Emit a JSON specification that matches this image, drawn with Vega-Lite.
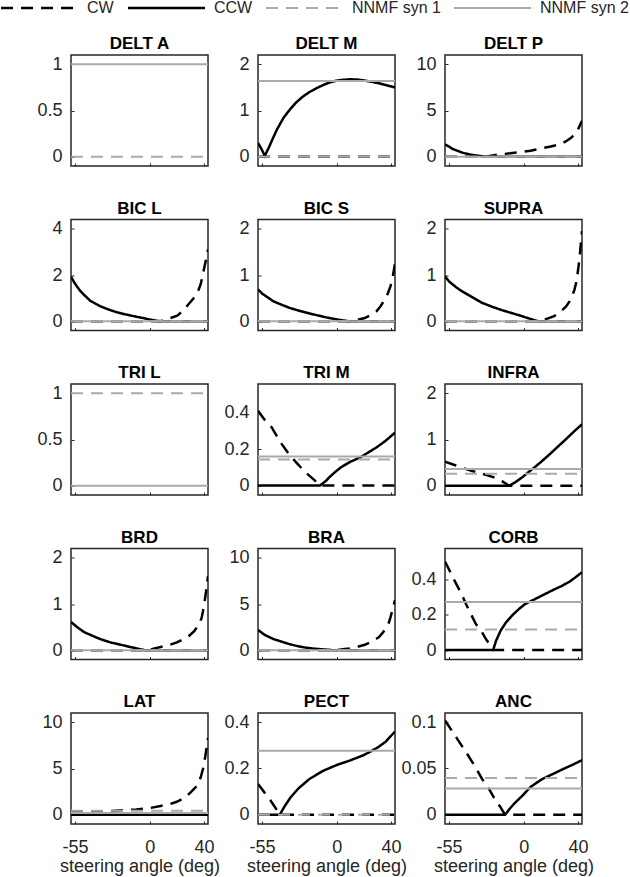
{
"$schema": "https://vega.github.io/schema/vega-lite/v6.json",
"padding": 0,
"background": "white",
"columns": 3,
"spacing": {"row": 53.5, "column": 50},
"bounds": "flush",
"config": {
 "font": "Liberation Sans",
 "view": {"stroke": "#262626", "strokeWidth": 1.5},
 "axis": {"domain": false, "grid": false, "ticks": true, "tickSize": -3, "tickColor": "#262626", "tickWidth": 1, "labelFont": "Liberation Sans", "labelFontSize": 18, "labelColor": "#262626", "titleFont": "Liberation Sans", "titleFontSize": 18, "titleFontWeight": "normal", "titleColor": "#262626"},
 "axisY": {"labelPadding": 12, "format": "~f"},
 "axisX": {"labelPadding": 17, "titlePadding": 1},
 "title": {"font": "Liberation Sans", "fontSize": 17, "fontWeight": "bold", "color": "#000000", "offset": 2, "frame": "group", "anchor": "middle"},
 "legend": {"orient": "none", "legendX": -71, "legendY": -55, "direction": "horizontal", "symbolType": "M-1.2727,0L12.7273,0", "symbolSize": 121, "symbolStrokeWidth": 2.5, "labelFont": "Liberation Sans", "labelFontSize": 16, "labelColor": "#262626", "labelOffset": 71, "columnPadding": 9, "padding": 0}
},
"resolve": {"scale": {"x": "independent", "y": "independent"}},
"data": {"values": [
{"p":"DELT A","s":"NNMF syn 1","x":-58,"y":0},{"p":"DELT A","s":"NNMF syn 1","x":43,"y":0},
{"p":"DELT A","s":"NNMF syn 2","x":-58,"y":1},{"p":"DELT A","s":"NNMF syn 2","x":43,"y":1},

{"p":"DELT M","s":"CW","x":-58,"y":0},{"p":"DELT M","s":"CW","x":43,"y":0},
{"p":"DELT M","s":"CCW","x":-58,"y":0.3},{"p":"DELT M","s":"CCW","x":-55.5,"y":0.17},{"p":"DELT M","s":"CCW","x":-53,"y":0.02},{"p":"DELT M","s":"CCW","x":-50,"y":0.2},{"p":"DELT M","s":"CCW","x":-47,"y":0.4},{"p":"DELT M","s":"CCW","x":-44,"y":0.59},{"p":"DELT M","s":"CCW","x":-39,"y":0.85},{"p":"DELT M","s":"CCW","x":-34.5,"y":1.02},{"p":"DELT M","s":"CCW","x":-30,"y":1.17},{"p":"DELT M","s":"CCW","x":-25,"y":1.3},{"p":"DELT M","s":"CCW","x":-20,"y":1.4},{"p":"DELT M","s":"CCW","x":-15,"y":1.48},{"p":"DELT M","s":"CCW","x":-10,"y":1.55},{"p":"DELT M","s":"CCW","x":-5,"y":1.61},{"p":"DELT M","s":"CCW","x":0,"y":1.645},{"p":"DELT M","s":"CCW","x":5,"y":1.665},{"p":"DELT M","s":"CCW","x":10,"y":1.675},{"p":"DELT M","s":"CCW","x":15,"y":1.67},{"p":"DELT M","s":"CCW","x":20,"y":1.65},{"p":"DELT M","s":"CCW","x":25,"y":1.625},{"p":"DELT M","s":"CCW","x":30,"y":1.595},{"p":"DELT M","s":"CCW","x":35,"y":1.56},{"p":"DELT M","s":"CCW","x":43,"y":1.5},
{"p":"DELT M","s":"NNMF syn 1","x":-58,"y":0},{"p":"DELT M","s":"NNMF syn 1","x":43,"y":0},
{"p":"DELT M","s":"NNMF syn 2","x":-58,"y":1.64},{"p":"DELT M","s":"NNMF syn 2","x":43,"y":1.64},

{"p":"DELT P","s":"CW","x":-58,"y":0},{"p":"DELT P","s":"CW","x":-28,"y":0},{"p":"DELT P","s":"CW","x":-24,"y":0.1},{"p":"DELT P","s":"CW","x":-18,"y":0.25},{"p":"DELT P","s":"CW","x":-10,"y":0.37},{"p":"DELT P","s":"CW","x":-3,"y":0.5},{"p":"DELT P","s":"CW","x":5,"y":0.65},{"p":"DELT P","s":"CW","x":11.6,"y":0.86},{"p":"DELT P","s":"CW","x":20,"y":1.1},{"p":"DELT P","s":"CW","x":26.4,"y":1.33},{"p":"DELT P","s":"CW","x":31,"y":1.65},{"p":"DELT P","s":"CW","x":35,"y":2.04},{"p":"DELT P","s":"CW","x":38,"y":2.5},{"p":"DELT P","s":"CW","x":40,"y":2.94},{"p":"DELT P","s":"CW","x":43,"y":3.9},
{"p":"DELT P","s":"CCW","x":-58,"y":1.33},{"p":"DELT P","s":"CCW","x":-55,"y":1.1},{"p":"DELT P","s":"CCW","x":-52.6,"y":0.86},{"p":"DELT P","s":"CCW","x":-48,"y":0.6},{"p":"DELT P","s":"CCW","x":-45,"y":0.43},{"p":"DELT P","s":"CCW","x":-40,"y":0.25},{"p":"DELT P","s":"CCW","x":-35,"y":0.13},{"p":"DELT P","s":"CCW","x":-31.6,"y":0.07},{"p":"DELT P","s":"CCW","x":-28,"y":0},{"p":"DELT P","s":"CCW","x":43,"y":0},
{"p":"DELT P","s":"NNMF syn 1","x":-58,"y":0},{"p":"DELT P","s":"NNMF syn 1","x":43,"y":0},
{"p":"DELT P","s":"NNMF syn 2","x":-58,"y":0},{"p":"DELT P","s":"NNMF syn 2","x":43,"y":0},

{"p":"BIC L","s":"CW","x":-58,"y":0},{"p":"BIC L","s":"CW","x":7.9,"y":0},{"p":"BIC L","s":"CW","x":12.9,"y":0.1},{"p":"BIC L","s":"CW","x":16.5,"y":0.16},{"p":"BIC L","s":"CW","x":20.3,"y":0.24},{"p":"BIC L","s":"CW","x":24,"y":0.42},{"p":"BIC L","s":"CW","x":27.7,"y":0.67},{"p":"BIC L","s":"CW","x":31,"y":0.9},{"p":"BIC L","s":"CW","x":33.9,"y":1.1},{"p":"BIC L","s":"CW","x":36,"y":1.35},{"p":"BIC L","s":"CW","x":37.6,"y":1.6},{"p":"BIC L","s":"CW","x":39,"y":1.95},{"p":"BIC L","s":"CW","x":40,"y":2.25},{"p":"BIC L","s":"CW","x":41.3,"y":2.6},{"p":"BIC L","s":"CW","x":43,"y":3.1},
{"p":"BIC L","s":"CCW","x":-58,"y":1.92},{"p":"BIC L","s":"CCW","x":-55,"y":1.62},{"p":"BIC L","s":"CCW","x":-51.3,"y":1.32},{"p":"BIC L","s":"CCW","x":-48,"y":1.12},{"p":"BIC L","s":"CCW","x":-43.9,"y":0.89},{"p":"BIC L","s":"CCW","x":-40,"y":0.76},{"p":"BIC L","s":"CCW","x":-36.5,"y":0.65},{"p":"BIC L","s":"CCW","x":-30,"y":0.5},{"p":"BIC L","s":"CCW","x":-24.2,"y":0.39},{"p":"BIC L","s":"CCW","x":-18,"y":0.3},{"p":"BIC L","s":"CCW","x":-11.8,"y":0.22},{"p":"BIC L","s":"CCW","x":-5,"y":0.14},{"p":"BIC L","s":"CCW","x":0.5,"y":0.07},{"p":"BIC L","s":"CCW","x":5,"y":0.02},{"p":"BIC L","s":"CCW","x":7.9,"y":0},{"p":"BIC L","s":"CCW","x":43,"y":0},
{"p":"BIC L","s":"NNMF syn 1","x":-58,"y":0},{"p":"BIC L","s":"NNMF syn 1","x":43,"y":0},
{"p":"BIC L","s":"NNMF syn 2","x":-58,"y":0},{"p":"BIC L","s":"NNMF syn 2","x":43,"y":0},

{"p":"BIC S","s":"CW","x":-58,"y":0},{"p":"BIC S","s":"CW","x":9,"y":0},{"p":"BIC S","s":"CW","x":15,"y":0.03},{"p":"BIC S","s":"CW","x":20.7,"y":0.07},{"p":"BIC S","s":"CW","x":25,"y":0.13},{"p":"BIC S","s":"CW","x":29.5,"y":0.22},{"p":"BIC S","s":"CW","x":32.5,"y":0.33},{"p":"BIC S","s":"CW","x":35.4,"y":0.47},{"p":"BIC S","s":"CW","x":37.7,"y":0.6},{"p":"BIC S","s":"CW","x":39.7,"y":0.76},{"p":"BIC S","s":"CW","x":41.3,"y":0.95},{"p":"BIC S","s":"CW","x":43,"y":1.25},
{"p":"BIC S","s":"CCW","x":-58,"y":0.69},{"p":"BIC S","s":"CCW","x":-55,"y":0.6},{"p":"BIC S","s":"CCW","x":-51,"y":0.52},{"p":"BIC S","s":"CCW","x":-46.6,"y":0.43},{"p":"BIC S","s":"CCW","x":-40,"y":0.35},{"p":"BIC S","s":"CCW","x":-34.8,"y":0.29},{"p":"BIC S","s":"CCW","x":-28,"y":0.23},{"p":"BIC S","s":"CCW","x":-20.2,"y":0.17},{"p":"BIC S","s":"CCW","x":-13,"y":0.12},{"p":"BIC S","s":"CCW","x":-5.6,"y":0.07},{"p":"BIC S","s":"CCW","x":2,"y":0.03},{"p":"BIC S","s":"CCW","x":9,"y":0},{"p":"BIC S","s":"CCW","x":43,"y":0},
{"p":"BIC S","s":"NNMF syn 1","x":-58,"y":0},{"p":"BIC S","s":"NNMF syn 1","x":43,"y":0},
{"p":"BIC S","s":"NNMF syn 2","x":-58,"y":0},{"p":"BIC S","s":"NNMF syn 2","x":43,"y":0},

{"p":"SUPRA","s":"CW","x":-58,"y":0},{"p":"SUPRA","s":"CW","x":10.6,"y":0},{"p":"SUPRA","s":"CW","x":16,"y":0.04},{"p":"SUPRA","s":"CW","x":22.4,"y":0.11},{"p":"SUPRA","s":"CW","x":27,"y":0.2},{"p":"SUPRA","s":"CW","x":31.3,"y":0.32},{"p":"SUPRA","s":"CW","x":33.8,"y":0.43},{"p":"SUPRA","s":"CW","x":35.7,"y":0.54},{"p":"SUPRA","s":"CW","x":37.4,"y":0.68},{"p":"SUPRA","s":"CW","x":38.7,"y":0.83},{"p":"SUPRA","s":"CW","x":39.6,"y":1.0},{"p":"SUPRA","s":"CW","x":40.5,"y":1.2},{"p":"SUPRA","s":"CW","x":41.6,"y":1.5},{"p":"SUPRA","s":"CW","x":43,"y":1.95},
{"p":"SUPRA","s":"CCW","x":-58,"y":0.97},{"p":"SUPRA","s":"CCW","x":-55,"y":0.86},{"p":"SUPRA","s":"CCW","x":-50,"y":0.74},{"p":"SUPRA","s":"CCW","x":-45.6,"y":0.65},{"p":"SUPRA","s":"CCW","x":-38,"y":0.52},{"p":"SUPRA","s":"CCW","x":-30.8,"y":0.4},{"p":"SUPRA","s":"CCW","x":-23,"y":0.31},{"p":"SUPRA","s":"CCW","x":-16,"y":0.24},{"p":"SUPRA","s":"CCW","x":-8,"y":0.17},{"p":"SUPRA","s":"CCW","x":-1.2,"y":0.11},{"p":"SUPRA","s":"CCW","x":5,"y":0.05},{"p":"SUPRA","s":"CCW","x":10.6,"y":0},{"p":"SUPRA","s":"CCW","x":43,"y":0},
{"p":"SUPRA","s":"NNMF syn 1","x":-58,"y":0},{"p":"SUPRA","s":"NNMF syn 1","x":43,"y":0},
{"p":"SUPRA","s":"NNMF syn 2","x":-58,"y":0},{"p":"SUPRA","s":"NNMF syn 2","x":43,"y":0},

{"p":"TRI L","s":"NNMF syn 1","x":-58,"y":1},{"p":"TRI L","s":"NNMF syn 1","x":43,"y":1},
{"p":"TRI L","s":"NNMF syn 2","x":-58,"y":0},{"p":"TRI L","s":"NNMF syn 2","x":43,"y":0},

{"p":"TRI M","s":"CW","x":-58,"y":0.41},{"p":"TRI M","s":"CW","x":-53,"y":0.36},{"p":"TRI M","s":"CW","x":-48,"y":0.32},{"p":"TRI M","s":"CW","x":-44,"y":0.27},{"p":"TRI M","s":"CW","x":-40.7,"y":0.23},{"p":"TRI M","s":"CW","x":-35,"y":0.17},{"p":"TRI M","s":"CW","x":-29,"y":0.12},{"p":"TRI M","s":"CW","x":-24,"y":0.08},{"p":"TRI M","s":"CW","x":-20.2,"y":0.054},{"p":"TRI M","s":"CW","x":-16,"y":0.027},{"p":"TRI M","s":"CW","x":-12.3,"y":0},{"p":"TRI M","s":"CW","x":43,"y":0},
{"p":"TRI M","s":"CCW","x":-58,"y":0},{"p":"TRI M","s":"CCW","x":-12.3,"y":0},{"p":"TRI M","s":"CCW","x":-8,"y":0.025},{"p":"TRI M","s":"CCW","x":-5.6,"y":0.044},{"p":"TRI M","s":"CCW","x":-1,"y":0.075},{"p":"TRI M","s":"CCW","x":3.2,"y":0.1},{"p":"TRI M","s":"CCW","x":10,"y":0.13},{"p":"TRI M","s":"CCW","x":17.8,"y":0.156},{"p":"TRI M","s":"CCW","x":23,"y":0.18},{"p":"TRI M","s":"CCW","x":29.5,"y":0.21},{"p":"TRI M","s":"CCW","x":36,"y":0.245},{"p":"TRI M","s":"CCW","x":43,"y":0.29},
{"p":"TRI M","s":"NNMF syn 1","x":-58,"y":0.143},{"p":"TRI M","s":"NNMF syn 1","x":43,"y":0.143},
{"p":"TRI M","s":"NNMF syn 2","x":-58,"y":0.159},{"p":"TRI M","s":"NNMF syn 2","x":43,"y":0.159},

{"p":"INFRA","s":"CW","x":-58,"y":0.52},{"p":"INFRA","s":"CW","x":-52,"y":0.46},{"p":"INFRA","s":"CW","x":-45.6,"y":0.39},{"p":"INFRA","s":"CW","x":-38,"y":0.32},{"p":"INFRA","s":"CW","x":-30.8,"y":0.26},{"p":"INFRA","s":"CW","x":-26,"y":0.22},{"p":"INFRA","s":"CW","x":-21.9,"y":0.18},{"p":"INFRA","s":"CW","x":-16,"y":0.1},{"p":"INFRA","s":"CW","x":-10.7,"y":0},{"p":"INFRA","s":"CW","x":43,"y":0},
{"p":"INFRA","s":"CCW","x":-58,"y":0},{"p":"INFRA","s":"CCW","x":-10.7,"y":0},{"p":"INFRA","s":"CCW","x":-6,"y":0.08},{"p":"INFRA","s":"CCW","x":-1.2,"y":0.18},{"p":"INFRA","s":"CCW","x":3,"y":0.28},{"p":"INFRA","s":"CCW","x":7.7,"y":0.39},{"p":"INFRA","s":"CCW","x":13,"y":0.52},{"p":"INFRA","s":"CCW","x":19.5,"y":0.69},{"p":"INFRA","s":"CCW","x":25,"y":0.84},{"p":"INFRA","s":"CCW","x":31.3,"y":1.01},{"p":"INFRA","s":"CCW","x":37,"y":1.17},{"p":"INFRA","s":"CCW","x":43,"y":1.33},
{"p":"INFRA","s":"NNMF syn 1","x":-58,"y":0.26},{"p":"INFRA","s":"NNMF syn 1","x":43,"y":0.26},
{"p":"INFRA","s":"NNMF syn 2","x":-58,"y":0.36},{"p":"INFRA","s":"NNMF syn 2","x":43,"y":0.36},

{"p":"BRD","s":"CW","x":-58,"y":0},{"p":"BRD","s":"CW","x":-3.7,"y":0},{"p":"BRD","s":"CW","x":2,"y":0.03},{"p":"BRD","s":"CW","x":8.2,"y":0.07},{"p":"BRD","s":"CW","x":14,"y":0.11},{"p":"BRD","s":"CW","x":20.1,"y":0.17},{"p":"BRD","s":"CW","x":25,"y":0.24},{"p":"BRD","s":"CW","x":29,"y":0.31},{"p":"BRD","s":"CW","x":33,"y":0.42},{"p":"BRD","s":"CW","x":36.5,"y":0.57},{"p":"BRD","s":"CW","x":38.3,"y":0.7},{"p":"BRD","s":"CW","x":39.4,"y":0.86},{"p":"BRD","s":"CW","x":41,"y":1.15},{"p":"BRD","s":"CW","x":43,"y":1.6},
{"p":"BRD","s":"CCW","x":-58,"y":0.61},{"p":"BRD","s":"CCW","x":-53,"y":0.49},{"p":"BRD","s":"CCW","x":-48.2,"y":0.39},{"p":"BRD","s":"CCW","x":-42,"y":0.31},{"p":"BRD","s":"CCW","x":-36.3,"y":0.24},{"p":"BRD","s":"CCW","x":-29,"y":0.17},{"p":"BRD","s":"CCW","x":-21.5,"y":0.12},{"p":"BRD","s":"CCW","x":-15,"y":0.075},{"p":"BRD","s":"CCW","x":-9.6,"y":0.04},{"p":"BRD","s":"CCW","x":-3.7,"y":0},{"p":"BRD","s":"CCW","x":43,"y":0},
{"p":"BRD","s":"NNMF syn 1","x":-58,"y":0},{"p":"BRD","s":"NNMF syn 1","x":43,"y":0},
{"p":"BRD","s":"NNMF syn 2","x":-58,"y":0},{"p":"BRD","s":"NNMF syn 2","x":43,"y":0},

{"p":"BRA","s":"CW","x":-58,"y":0},{"p":"BRA","s":"CW","x":-2.7,"y":0},{"p":"BRA","s":"CW","x":3,"y":0.07},{"p":"BRA","s":"CW","x":9,"y":0.18},{"p":"BRA","s":"CW","x":15,"y":0.35},{"p":"BRA","s":"CW","x":20.7,"y":0.59},{"p":"BRA","s":"CW","x":26,"y":0.95},{"p":"BRA","s":"CW","x":31,"y":1.39},{"p":"BRA","s":"CW","x":34,"y":1.9},{"p":"BRA","s":"CW","x":36.8,"y":2.49},{"p":"BRA","s":"CW","x":38.5,"y":3.0},{"p":"BRA","s":"CW","x":39.7,"y":3.59},{"p":"BRA","s":"CW","x":41.2,"y":4.4},{"p":"BRA","s":"CW","x":43,"y":5.42},
{"p":"BRA","s":"CCW","x":-58,"y":2.2},{"p":"BRA","s":"CCW","x":-53,"y":1.65},{"p":"BRA","s":"CCW","x":-46.6,"y":1.21},{"p":"BRA","s":"CCW","x":-40,"y":0.9},{"p":"BRA","s":"CCW","x":-34.8,"y":0.66},{"p":"BRA","s":"CCW","x":-29,"y":0.45},{"p":"BRA","s":"CCW","x":-23.2,"y":0.29},{"p":"BRA","s":"CCW","x":-17,"y":0.18},{"p":"BRA","s":"CCW","x":-11.5,"y":0.11},{"p":"BRA","s":"CCW","x":-6,"y":0.05},{"p":"BRA","s":"CCW","x":-2.7,"y":0},{"p":"BRA","s":"CCW","x":43,"y":0},
{"p":"BRA","s":"NNMF syn 1","x":-58,"y":0},{"p":"BRA","s":"NNMF syn 1","x":43,"y":0},
{"p":"BRA","s":"NNMF syn 2","x":-58,"y":0},{"p":"BRA","s":"NNMF syn 2","x":43,"y":0},

{"p":"CORB","s":"CW","x":-58,"y":0.5},{"p":"CORB","s":"CW","x":-54,"y":0.44},{"p":"CORB","s":"CW","x":-50,"y":0.378},{"p":"CORB","s":"CW","x":-46,"y":0.32},{"p":"CORB","s":"CW","x":-42.7,"y":0.263},{"p":"CORB","s":"CW","x":-39,"y":0.205},{"p":"CORB","s":"CW","x":-35.3,"y":0.148},{"p":"CORB","s":"CW","x":-31,"y":0.105},{"p":"CORB","s":"CW","x":-28,"y":0.065},{"p":"CORB","s":"CW","x":-25,"y":0.03},{"p":"CORB","s":"CW","x":-22.5,"y":0},{"p":"CORB","s":"CW","x":43,"y":0},
{"p":"CORB","s":"CCW","x":-58,"y":0},{"p":"CORB","s":"CCW","x":-22.5,"y":0},{"p":"CORB","s":"CCW","x":-20.4,"y":0.052},{"p":"CORB","s":"CCW","x":-17,"y":0.11},{"p":"CORB","s":"CCW","x":-13,"y":0.157},{"p":"CORB","s":"CCW","x":-8,"y":0.2},{"p":"CORB","s":"CCW","x":-3.2,"y":0.234},{"p":"CORB","s":"CCW","x":1,"y":0.26},{"p":"CORB","s":"CCW","x":6.7,"y":0.282},{"p":"CORB","s":"CCW","x":14,"y":0.31},{"p":"CORB","s":"CCW","x":21.5,"y":0.339},{"p":"CORB","s":"CCW","x":28,"y":0.362},{"p":"CORB","s":"CCW","x":33.9,"y":0.387},{"p":"CORB","s":"CCW","x":38,"y":0.41},{"p":"CORB","s":"CCW","x":43,"y":0.44},
{"p":"CORB","s":"NNMF syn 1","x":-58,"y":0.117},{"p":"CORB","s":"NNMF syn 1","x":43,"y":0.117},
{"p":"CORB","s":"NNMF syn 2","x":-58,"y":0.272},{"p":"CORB","s":"NNMF syn 2","x":43,"y":0.272},

{"p":"LAT","s":"CW","x":-58,"y":0.3},{"p":"LAT","s":"CW","x":-45,"y":0.33},{"p":"LAT","s":"CW","x":-30,"y":0.4},{"p":"LAT","s":"CW","x":-20,"y":0.48},{"p":"LAT","s":"CW","x":-10,"y":0.58},{"p":"LAT","s":"CW","x":0,"y":0.72},{"p":"LAT","s":"CW","x":8,"y":0.95},{"p":"LAT","s":"CW","x":14.1,"y":1.11},{"p":"LAT","s":"CW","x":20,"y":1.4},{"p":"LAT","s":"CW","x":26,"y":1.85},{"p":"LAT","s":"CW","x":30,"y":2.4},{"p":"LAT","s":"CW","x":35,"y":3.15},{"p":"LAT","s":"CW","x":37.5,"y":4.0},{"p":"LAT","s":"CW","x":39.4,"y":5.0},{"p":"LAT","s":"CW","x":41,"y":6.3},{"p":"LAT","s":"CW","x":43,"y":8.3},
{"p":"LAT","s":"CCW","x":-58,"y":0},{"p":"LAT","s":"CCW","x":43,"y":0},
{"p":"LAT","s":"NNMF syn 1","x":-58,"y":0.44},{"p":"LAT","s":"NNMF syn 1","x":43,"y":0.44},
{"p":"LAT","s":"NNMF syn 2","x":-58,"y":0.2},{"p":"LAT","s":"NNMF syn 2","x":43,"y":0.2},

{"p":"PECT","s":"CW","x":-58,"y":0.133},{"p":"PECT","s":"CW","x":-55,"y":0.11},{"p":"PECT","s":"CW","x":-52.4,"y":0.089},{"p":"PECT","s":"CW","x":-49,"y":0.064},{"p":"PECT","s":"CW","x":-45.5,"y":0.033},{"p":"PECT","s":"CW","x":-42,"y":0},{"p":"PECT","s":"CW","x":43,"y":0},
{"p":"PECT","s":"CCW","x":-58,"y":0},{"p":"PECT","s":"CCW","x":-42,"y":0},{"p":"PECT","s":"CCW","x":-38,"y":0.04},{"p":"PECT","s":"CCW","x":-34,"y":0.075},{"p":"PECT","s":"CCW","x":-28,"y":0.115},{"p":"PECT","s":"CCW","x":-20,"y":0.155},{"p":"PECT","s":"CCW","x":-10,"y":0.19},{"p":"PECT","s":"CCW","x":0,"y":0.215},{"p":"PECT","s":"CCW","x":10,"y":0.235},{"p":"PECT","s":"CCW","x":20,"y":0.258},{"p":"PECT","s":"CCW","x":30,"y":0.29},{"p":"PECT","s":"CCW","x":36,"y":0.315},{"p":"PECT","s":"CCW","x":43,"y":0.36},
{"p":"PECT","s":"NNMF syn 1","x":-58,"y":0},{"p":"PECT","s":"NNMF syn 1","x":43,"y":0},
{"p":"PECT","s":"NNMF syn 2","x":-58,"y":0.277},{"p":"PECT","s":"NNMF syn 2","x":43,"y":0.277},

{"p":"ANC","s":"CW","x":-58,"y":0.102},{"p":"ANC","s":"CW","x":-53,"y":0.091},{"p":"ANC","s":"CW","x":-48.5,"y":0.081},{"p":"ANC","s":"CW","x":-44,"y":0.071},{"p":"ANC","s":"CW","x":-39.6,"y":0.061},{"p":"ANC","s":"CW","x":-35,"y":0.05},{"p":"ANC","s":"CW","x":-30.8,"y":0.039},{"p":"ANC","s":"CW","x":-26,"y":0.029},{"p":"ANC","s":"CW","x":-21.9,"y":0.0185},{"p":"ANC","s":"CW","x":-17.5,"y":0.009},{"p":"ANC","s":"CW","x":-13.7,"y":0},{"p":"ANC","s":"CW","x":43,"y":0},
{"p":"ANC","s":"CCW","x":-58,"y":0},{"p":"ANC","s":"CCW","x":-13.7,"y":0},{"p":"ANC","s":"CCW","x":-10,"y":0.007},{"p":"ANC","s":"CCW","x":-7,"y":0.012},{"p":"ANC","s":"CCW","x":0,"y":0.022},{"p":"ANC","s":"CCW","x":5,"y":0.03},{"p":"ANC","s":"CCW","x":13,"y":0.038},{"p":"ANC","s":"CCW","x":20,"y":0.043},{"p":"ANC","s":"CCW","x":30,"y":0.05},{"p":"ANC","s":"CCW","x":36,"y":0.054},{"p":"ANC","s":"CCW","x":43,"y":0.059},
{"p":"ANC","s":"NNMF syn 1","x":-58,"y":0.0396},{"p":"ANC","s":"NNMF syn 1","x":43,"y":0.0396},
{"p":"ANC","s":"NNMF syn 2","x":-58,"y":0.0285},{"p":"ANC","s":"NNMF syn 2","x":43,"y":0.0285}
]},
"concat": [
{"title":"DELT A","width":137,"height":111,"transform":[{"filter":"datum.p === 'DELT A'"}],"mark":{"type":"line","clip":true},
 "encoding":{"x":{"field":"x","type":"quantitative","scale":{"domain":[-58,43],"nice":false,"zero":false},"axis":{"values":[-55,0,40],"labels":false,"title":null}},
 "y":{"field":"y","type":"quantitative","scale":{"domain":[-0.1,1.1],"nice":false,"zero":false},"axis":{"values":[0,0.5,1],"title":null}},
 "color":{"field":"s","type":"nominal","scale":{"domain":["CW","CCW","NNMF syn 1","NNMF syn 2"],"range":["#000000","#000000","#aaaaaa","#aaaaaa"]},"legend":{"title":null}},
 "strokeDash":{"field":"s","type":"nominal","scale":{"domain":["CW","CCW","NNMF syn 1","NNMF syn 2"],"range":[[12,8],[1,0],[12,8],[1,0]]},"legend":{"title":null}},
 "strokeWidth":{"field":"s","type":"nominal","scale":{"type":"ordinal","domain":["CW","CCW","NNMF syn 1","NNMF syn 2"],"range":[2.5,2.5,2,2]},"legend":null}}},
{"title":"DELT M","width":137,"height":111,"transform":[{"filter":"datum.p === 'DELT M'"}],"mark":{"type":"line","clip":true},
 "encoding":{"x":{"field":"x","type":"quantitative","scale":{"domain":[-58,43],"nice":false,"zero":false},"axis":{"values":[-55,0,40],"labels":false,"title":null}},
 "y":{"field":"y","type":"quantitative","scale":{"domain":[-0.2,2.2],"nice":false,"zero":false},"axis":{"values":[0,1,2],"title":null}},
 "color":{"field":"s","type":"nominal","scale":{"domain":["CW","CCW","NNMF syn 1","NNMF syn 2"],"range":["#000000","#000000","#aaaaaa","#aaaaaa"]},"legend":{"title":null}},
 "strokeDash":{"field":"s","type":"nominal","scale":{"domain":["CW","CCW","NNMF syn 1","NNMF syn 2"],"range":[[12,8],[1,0],[12,8],[1,0]]},"legend":{"title":null}},
 "strokeWidth":{"field":"s","type":"nominal","scale":{"type":"ordinal","domain":["CW","CCW","NNMF syn 1","NNMF syn 2"],"range":[2.5,2.5,2,2]},"legend":null}}},
{"title":"DELT P","width":137,"height":111,"transform":[{"filter":"datum.p === 'DELT P'"}],"mark":{"type":"line","clip":true},
 "encoding":{"x":{"field":"x","type":"quantitative","scale":{"domain":[-58,43],"nice":false,"zero":false},"axis":{"values":[-55,0,40],"labels":false,"title":null}},
 "y":{"field":"y","type":"quantitative","scale":{"domain":[-1,11],"nice":false,"zero":false},"axis":{"values":[0,5,10],"title":null}},
 "color":{"field":"s","type":"nominal","scale":{"domain":["CW","CCW","NNMF syn 1","NNMF syn 2"],"range":["#000000","#000000","#aaaaaa","#aaaaaa"]},"legend":{"title":null}},
 "strokeDash":{"field":"s","type":"nominal","scale":{"domain":["CW","CCW","NNMF syn 1","NNMF syn 2"],"range":[[12,8],[1,0],[12,8],[1,0]]},"legend":{"title":null}},
 "strokeWidth":{"field":"s","type":"nominal","scale":{"type":"ordinal","domain":["CW","CCW","NNMF syn 1","NNMF syn 2"],"range":[2.5,2.5,2,2]},"legend":null}}},
{"title":"BIC L","width":137,"height":111,"transform":[{"filter":"datum.p === 'BIC L'"}],"mark":{"type":"line","clip":true},
 "encoding":{"x":{"field":"x","type":"quantitative","scale":{"domain":[-58,43],"nice":false,"zero":false},"axis":{"values":[-55,0,40],"labels":false,"title":null}},
 "y":{"field":"y","type":"quantitative","scale":{"domain":[-0.4,4.4],"nice":false,"zero":false},"axis":{"values":[0,2,4],"title":null}},
 "color":{"field":"s","type":"nominal","scale":{"domain":["CW","CCW","NNMF syn 1","NNMF syn 2"],"range":["#000000","#000000","#aaaaaa","#aaaaaa"]},"legend":{"title":null}},
 "strokeDash":{"field":"s","type":"nominal","scale":{"domain":["CW","CCW","NNMF syn 1","NNMF syn 2"],"range":[[12,8],[1,0],[12,8],[1,0]]},"legend":{"title":null}},
 "strokeWidth":{"field":"s","type":"nominal","scale":{"type":"ordinal","domain":["CW","CCW","NNMF syn 1","NNMF syn 2"],"range":[2.5,2.5,2,2]},"legend":null}}},
{"title":"BIC S","width":137,"height":111,"transform":[{"filter":"datum.p === 'BIC S'"}],"mark":{"type":"line","clip":true},
 "encoding":{"x":{"field":"x","type":"quantitative","scale":{"domain":[-58,43],"nice":false,"zero":false},"axis":{"values":[-55,0,40],"labels":false,"title":null}},
 "y":{"field":"y","type":"quantitative","scale":{"domain":[-0.2,2.2],"nice":false,"zero":false},"axis":{"values":[0,1,2],"title":null}},
 "color":{"field":"s","type":"nominal","scale":{"domain":["CW","CCW","NNMF syn 1","NNMF syn 2"],"range":["#000000","#000000","#aaaaaa","#aaaaaa"]},"legend":{"title":null}},
 "strokeDash":{"field":"s","type":"nominal","scale":{"domain":["CW","CCW","NNMF syn 1","NNMF syn 2"],"range":[[12,8],[1,0],[12,8],[1,0]]},"legend":{"title":null}},
 "strokeWidth":{"field":"s","type":"nominal","scale":{"type":"ordinal","domain":["CW","CCW","NNMF syn 1","NNMF syn 2"],"range":[2.5,2.5,2,2]},"legend":null}}},
{"title":"SUPRA","width":137,"height":111,"transform":[{"filter":"datum.p === 'SUPRA'"}],"mark":{"type":"line","clip":true},
 "encoding":{"x":{"field":"x","type":"quantitative","scale":{"domain":[-58,43],"nice":false,"zero":false},"axis":{"values":[-55,0,40],"labels":false,"title":null}},
 "y":{"field":"y","type":"quantitative","scale":{"domain":[-0.2,2.2],"nice":false,"zero":false},"axis":{"values":[0,1,2],"title":null}},
 "color":{"field":"s","type":"nominal","scale":{"domain":["CW","CCW","NNMF syn 1","NNMF syn 2"],"range":["#000000","#000000","#aaaaaa","#aaaaaa"]},"legend":{"title":null}},
 "strokeDash":{"field":"s","type":"nominal","scale":{"domain":["CW","CCW","NNMF syn 1","NNMF syn 2"],"range":[[12,8],[1,0],[12,8],[1,0]]},"legend":{"title":null}},
 "strokeWidth":{"field":"s","type":"nominal","scale":{"type":"ordinal","domain":["CW","CCW","NNMF syn 1","NNMF syn 2"],"range":[2.5,2.5,2,2]},"legend":null}}},
{"title":"TRI L","width":137,"height":111,"transform":[{"filter":"datum.p === 'TRI L'"}],"mark":{"type":"line","clip":true},
 "encoding":{"x":{"field":"x","type":"quantitative","scale":{"domain":[-58,43],"nice":false,"zero":false},"axis":{"values":[-55,0,40],"labels":false,"title":null}},
 "y":{"field":"y","type":"quantitative","scale":{"domain":[-0.1,1.1],"nice":false,"zero":false},"axis":{"values":[0,0.5,1],"title":null}},
 "color":{"field":"s","type":"nominal","scale":{"domain":["CW","CCW","NNMF syn 1","NNMF syn 2"],"range":["#000000","#000000","#aaaaaa","#aaaaaa"]},"legend":{"title":null}},
 "strokeDash":{"field":"s","type":"nominal","scale":{"domain":["CW","CCW","NNMF syn 1","NNMF syn 2"],"range":[[12,8],[1,0],[12,8],[1,0]]},"legend":{"title":null}},
 "strokeWidth":{"field":"s","type":"nominal","scale":{"type":"ordinal","domain":["CW","CCW","NNMF syn 1","NNMF syn 2"],"range":[2.5,2.5,2,2]},"legend":null}}},
{"title":"TRI M","width":137,"height":111,"transform":[{"filter":"datum.p === 'TRI M'"}],"mark":{"type":"line","clip":true},
 "encoding":{"x":{"field":"x","type":"quantitative","scale":{"domain":[-58,43],"nice":false,"zero":false},"axis":{"values":[-55,0,40],"labels":false,"title":null}},
 "y":{"field":"y","type":"quantitative","scale":{"domain":[-0.052,0.557],"nice":false,"zero":false},"axis":{"values":[0,0.2,0.4],"title":null}},
 "color":{"field":"s","type":"nominal","scale":{"domain":["CW","CCW","NNMF syn 1","NNMF syn 2"],"range":["#000000","#000000","#aaaaaa","#aaaaaa"]},"legend":{"title":null}},
 "strokeDash":{"field":"s","type":"nominal","scale":{"domain":["CW","CCW","NNMF syn 1","NNMF syn 2"],"range":[[12,8],[1,0],[12,8],[1,0]]},"legend":{"title":null}},
 "strokeWidth":{"field":"s","type":"nominal","scale":{"type":"ordinal","domain":["CW","CCW","NNMF syn 1","NNMF syn 2"],"range":[2.5,2.5,2,2]},"legend":null}}},
{"title":"INFRA","width":137,"height":111,"transform":[{"filter":"datum.p === 'INFRA'"}],"mark":{"type":"line","clip":true},
 "encoding":{"x":{"field":"x","type":"quantitative","scale":{"domain":[-58,43],"nice":false,"zero":false},"axis":{"values":[-55,0,40],"labels":false,"title":null}},
 "y":{"field":"y","type":"quantitative","scale":{"domain":[-0.2,2.2],"nice":false,"zero":false},"axis":{"values":[0,1,2],"title":null}},
 "color":{"field":"s","type":"nominal","scale":{"domain":["CW","CCW","NNMF syn 1","NNMF syn 2"],"range":["#000000","#000000","#aaaaaa","#aaaaaa"]},"legend":{"title":null}},
 "strokeDash":{"field":"s","type":"nominal","scale":{"domain":["CW","CCW","NNMF syn 1","NNMF syn 2"],"range":[[12,8],[1,0],[12,8],[1,0]]},"legend":{"title":null}},
 "strokeWidth":{"field":"s","type":"nominal","scale":{"type":"ordinal","domain":["CW","CCW","NNMF syn 1","NNMF syn 2"],"range":[2.5,2.5,2,2]},"legend":null}}},
{"title":"BRD","width":137,"height":111,"transform":[{"filter":"datum.p === 'BRD'"}],"mark":{"type":"line","clip":true},
 "encoding":{"x":{"field":"x","type":"quantitative","scale":{"domain":[-58,43],"nice":false,"zero":false},"axis":{"values":[-55,0,40],"labels":false,"title":null}},
 "y":{"field":"y","type":"quantitative","scale":{"domain":[-0.2,2.2],"nice":false,"zero":false},"axis":{"values":[0,1,2],"title":null}},
 "color":{"field":"s","type":"nominal","scale":{"domain":["CW","CCW","NNMF syn 1","NNMF syn 2"],"range":["#000000","#000000","#aaaaaa","#aaaaaa"]},"legend":{"title":null}},
 "strokeDash":{"field":"s","type":"nominal","scale":{"domain":["CW","CCW","NNMF syn 1","NNMF syn 2"],"range":[[12,8],[1,0],[12,8],[1,0]]},"legend":{"title":null}},
 "strokeWidth":{"field":"s","type":"nominal","scale":{"type":"ordinal","domain":["CW","CCW","NNMF syn 1","NNMF syn 2"],"range":[2.5,2.5,2,2]},"legend":null}}},
{"title":"BRA","width":137,"height":111,"transform":[{"filter":"datum.p === 'BRA'"}],"mark":{"type":"line","clip":true},
 "encoding":{"x":{"field":"x","type":"quantitative","scale":{"domain":[-58,43],"nice":false,"zero":false},"axis":{"values":[-55,0,40],"labels":false,"title":null}},
 "y":{"field":"y","type":"quantitative","scale":{"domain":[-1,11],"nice":false,"zero":false},"axis":{"values":[0,5,10],"title":null}},
 "color":{"field":"s","type":"nominal","scale":{"domain":["CW","CCW","NNMF syn 1","NNMF syn 2"],"range":["#000000","#000000","#aaaaaa","#aaaaaa"]},"legend":{"title":null}},
 "strokeDash":{"field":"s","type":"nominal","scale":{"domain":["CW","CCW","NNMF syn 1","NNMF syn 2"],"range":[[12,8],[1,0],[12,8],[1,0]]},"legend":{"title":null}},
 "strokeWidth":{"field":"s","type":"nominal","scale":{"type":"ordinal","domain":["CW","CCW","NNMF syn 1","NNMF syn 2"],"range":[2.5,2.5,2,2]},"legend":null}}},
{"title":"CORB","width":137,"height":111,"transform":[{"filter":"datum.p === 'CORB'"}],"mark":{"type":"line","clip":true},
 "encoding":{"x":{"field":"x","type":"quantitative","scale":{"domain":[-58,43],"nice":false,"zero":false},"axis":{"values":[-55,0,40],"labels":false,"title":null}},
 "y":{"field":"y","type":"quantitative","scale":{"domain":[-0.053,0.574],"nice":false,"zero":false},"axis":{"values":[0,0.2,0.4],"title":null}},
 "color":{"field":"s","type":"nominal","scale":{"domain":["CW","CCW","NNMF syn 1","NNMF syn 2"],"range":["#000000","#000000","#aaaaaa","#aaaaaa"]},"legend":{"title":null}},
 "strokeDash":{"field":"s","type":"nominal","scale":{"domain":["CW","CCW","NNMF syn 1","NNMF syn 2"],"range":[[12,8],[1,0],[12,8],[1,0]]},"legend":{"title":null}},
 "strokeWidth":{"field":"s","type":"nominal","scale":{"type":"ordinal","domain":["CW","CCW","NNMF syn 1","NNMF syn 2"],"range":[2.5,2.5,2,2]},"legend":null}}},
{"title":"LAT","width":137,"height":111,"transform":[{"filter":"datum.p === 'LAT'"}],"mark":{"type":"line","clip":true},
 "encoding":{"x":{"field":"x","type":"quantitative","scale":{"domain":[-58,43],"nice":false,"zero":false},"axis":{"values":[-55,0,40],"title":"steering angle (deg)","labelExpr":"replace(datum.label, '\u2212', '-')"}},
 "y":{"field":"y","type":"quantitative","scale":{"domain":[-1,11],"nice":false,"zero":false},"axis":{"values":[0,5,10],"title":null}},
 "color":{"field":"s","type":"nominal","scale":{"domain":["CW","CCW","NNMF syn 1","NNMF syn 2"],"range":["#000000","#000000","#aaaaaa","#aaaaaa"]},"legend":{"title":null}},
 "strokeDash":{"field":"s","type":"nominal","scale":{"domain":["CW","CCW","NNMF syn 1","NNMF syn 2"],"range":[[12,8],[1,0],[12,8],[1,0]]},"legend":{"title":null}},
 "strokeWidth":{"field":"s","type":"nominal","scale":{"type":"ordinal","domain":["CW","CCW","NNMF syn 1","NNMF syn 2"],"range":[2.5,2.5,2,2]},"legend":null}}},
{"title":"PECT","width":137,"height":111,"transform":[{"filter":"datum.p === 'PECT'"}],"mark":{"type":"line","clip":true},
 "encoding":{"x":{"field":"x","type":"quantitative","scale":{"domain":[-58,43],"nice":false,"zero":false},"axis":{"values":[-55,0,40],"title":"steering angle (deg)","labelExpr":"replace(datum.label, '\u2212', '-')"}},
 "y":{"field":"y","type":"quantitative","scale":{"domain":[-0.04,0.44],"nice":false,"zero":false},"axis":{"values":[0,0.2,0.4],"title":null}},
 "color":{"field":"s","type":"nominal","scale":{"domain":["CW","CCW","NNMF syn 1","NNMF syn 2"],"range":["#000000","#000000","#aaaaaa","#aaaaaa"]},"legend":{"title":null}},
 "strokeDash":{"field":"s","type":"nominal","scale":{"domain":["CW","CCW","NNMF syn 1","NNMF syn 2"],"range":[[12,8],[1,0],[12,8],[1,0]]},"legend":{"title":null}},
 "strokeWidth":{"field":"s","type":"nominal","scale":{"type":"ordinal","domain":["CW","CCW","NNMF syn 1","NNMF syn 2"],"range":[2.5,2.5,2,2]},"legend":null}}},
{"title":"ANC","width":137,"height":111,"transform":[{"filter":"datum.p === 'ANC'"}],"mark":{"type":"line","clip":true},
 "encoding":{"x":{"field":"x","type":"quantitative","scale":{"domain":[-58,43],"nice":false,"zero":false},"axis":{"values":[-55,0,40],"title":"steering angle (deg)","labelExpr":"replace(datum.label, '\u2212', '-')"}},
 "y":{"field":"y","type":"quantitative","scale":{"domain":[-0.01,0.11],"nice":false,"zero":false},"axis":{"values":[0,0.05,0.1],"title":null}},
 "color":{"field":"s","type":"nominal","scale":{"domain":["CW","CCW","NNMF syn 1","NNMF syn 2"],"range":["#000000","#000000","#aaaaaa","#aaaaaa"]},"legend":{"title":null}},
 "strokeDash":{"field":"s","type":"nominal","scale":{"domain":["CW","CCW","NNMF syn 1","NNMF syn 2"],"range":[[12,8],[1,0],[12,8],[1,0]]},"legend":{"title":null}},
 "strokeWidth":{"field":"s","type":"nominal","scale":{"type":"ordinal","domain":["CW","CCW","NNMF syn 1","NNMF syn 2"],"range":[2.5,2.5,2,2]},"legend":null}}}
]
}
